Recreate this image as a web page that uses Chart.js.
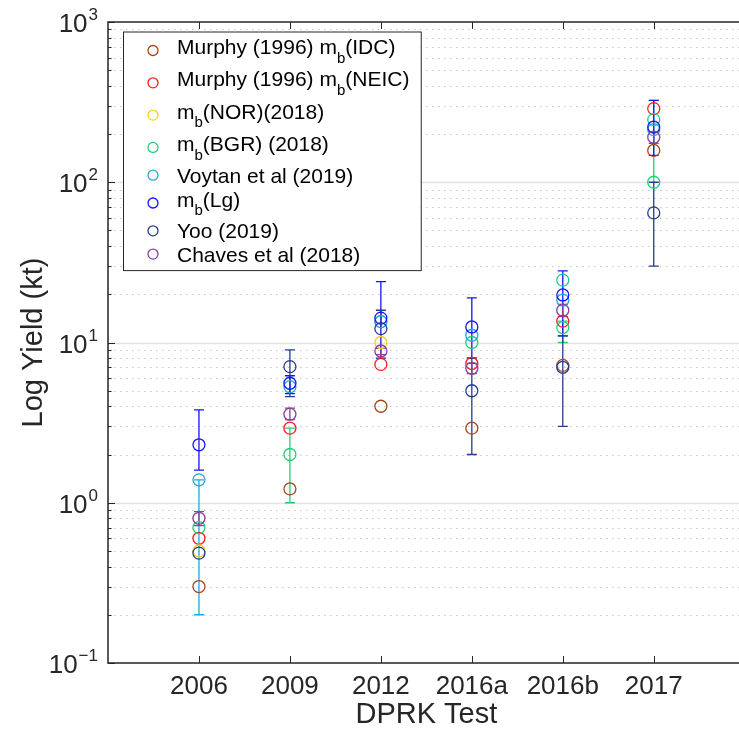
<!DOCTYPE html>
<html>
<head>
<meta charset="utf-8">
<script src="https://cdn.jsdelivr.net/npm/chart.js@4.4.1/dist/chart.umd.min.js"></script>
<style>
    body { margin: 0; overflow: hidden; background: #fff; }
    #wrap { width: 752px; height: 732px; }
</style>
</head>
<body>
<div id="wrap"><canvas id="yield-plot" width="752" height="732"></canvas></div>
<script>
// categories on the x axis
let categories = ['2006', '2009', '2012', '2016a', '2016b', '2017'];

// legend names ("_b" is drawn as subscript) and colours
let series_names = [
    'Murphy (1996) m_b(IDC)',
    'Murphy (1996) m_b(NEIC)',
    'm_b(NOR)(2018)',
    'm_b(BGR) (2018)',
    'Voytan et al (2019)',
    'm_b(Lg)',
    'Yoo (2019)',
    'Chaves et al (2018)'
];
let series_colors = ['#a4491c', '#ff1a1a', '#f7d21a', '#21cf7a', '#22a8dc', '#1414ff', '#243b95', '#8c3f9c'];

// yields (kt), one value per test, null = not plotted
let idc_yield = [0.30, 1.22, 4.0, 2.92, 7.2, 158];
let neic_yield = [0.60, 2.92, 7.3, 7.4, 13.6, 288];
let nor_yield = [0.50, null, 10.0, null, null, null];
let bgr_yield = [0.70, 2.0, 13.5, 10.0, 12.4, 100];
let bgr_yield_b = [null, null, null, null, 24.5, 246];
let voytan_yield = [1.39, 5.3, 13.5, 11.1, 18.4, 213];
let lg_yield = [2.3, 5.57, 14.2, 12.5, 19.8, 221];
let yoo_yield = [0.485, 7.07, 12.2, 5.0, 7.0, 64.4];
let chaves_yield = [0.80, 3.57, 8.85, 6.9, 15.9, 191];

// error bar limits (kt)
let bgr_lo = [null, 1.0, null, null, 10.0, null];
let bgr_hi = [null, 2.92, null, null, 13.6, 324];
let voytan_lo = [0.2, null, null, null, null, null];
let voytan_hi = [1.39, null, null, null, null, null];
let lg_lo = [1.6, 4.8, 8.0, 8.0, 11.0, 147];
let lg_hi = [3.8, 6.2, 24, 19, 28, 324];
let yoo_lo = [null, 4.6, null, 2.0, 3.0, 30];
let yoo_hi = [null, 9.0, 15.9, 8.0, 11.0, 100];
let chaves_lo = [0.72, 3.3, 8.4, 6.4, 14.5, 175];
let chaves_hi = [0.88, 3.9, 9.2, 7.4, 17.3, 205];

let none = [null, null, null, null, null, null];
let series = [
    { values: idc_yield, lo: none, hi: none },
    { values: neic_yield, lo: none, hi: none },
    { values: nor_yield, lo: none, hi: none },
    { values: bgr_yield, extra: bgr_yield_b, lo: bgr_lo, hi: bgr_hi },
    { values: voytan_yield, lo: voytan_lo, hi: voytan_hi },
    { values: lg_yield, lo: lg_lo, hi: lg_hi },
    { values: yoo_yield, lo: yoo_lo, hi: yoo_hi },
    { values: chaves_yield, lo: chaves_lo, hi: chaves_hi }
];

const FONT = "'Liberation Sans', Arial, Helvetica, sans-serif";
const AXIS_COLOR = '#262626';

function to_points(s) {
    let pts = [];
    for (let i = 0; i < s.values.length; i++) {
        if (s.values[i] != null) pts.push({ x: i, y: s.values[i] });
        if (s.extra && s.extra[i] != null) pts.push({ x: i, y: s.extra[i] });
    }
    return pts;
}

let datasets = series.map((s, k) => ({
    label: series_names[k],
    data: to_points(s),
    borderColor: series_colors[k],
    backgroundColor: 'rgba(0,0,0,0)',
    pointRadius: 6,
    pointHoverRadius: 6,
    pointBorderWidth: 1.3,
    showLine: false,
    order: -k   // later series drawn on top
}));

// draws text with "_b" as a subscript, returns width
function draw_sub_text(ctx, text, x, y, size) {
    let parts = text.split('_');
    let cx = x;
    ctx.textAlign = 'left';
    ctx.textBaseline = 'alphabetic';
    for (let p = 0; p < parts.length; p++) {
        let str = parts[p];
        if (p > 0) {
            ctx.font = Math.round(size * 0.72) + 'px ' + FONT;
            ctx.fillText(str[0], cx, y + size * 0.42);
            cx += ctx.measureText(str[0]).width;
            str = str.slice(1);
        }
        ctx.font = size + 'px ' + FONT;
        ctx.fillText(str, cx, y);
        cx += ctx.measureText(str).width;
    }
    return cx - x;
}

const frame_plugin = {
    id: 'frame',
    beforeDatasetsDraw(chart) {
        const { ctx, chartArea: a, scales: { x, y } } = chart;
        ctx.save();
        // dotted minor grid
        ctx.beginPath();
        for (let d = -1; d < 3; d++) {
            for (let m = 2; m <= 9; m++) {
                let py = Math.round(y.getPixelForValue(m * Math.pow(10, d))) + 0.5;
                ctx.moveTo(a.left, py);
                ctx.lineTo(a.right, py);
            }
        }
        ctx.setLineDash([1.5, 4.5]);
        ctx.strokeStyle = '#c6c6c6';
        ctx.lineWidth = 1;
        ctx.stroke();
        // solid major grid
        ctx.setLineDash([]);
        ctx.beginPath();
        for (let d = 0; d < 3; d++) {
            let py = Math.round(y.getPixelForValue(Math.pow(10, d))) + 0.5;
            ctx.moveTo(a.left, py);
            ctx.lineTo(a.right, py);
        }
        ctx.strokeStyle = '#e2e2e2';
        ctx.lineWidth = 1.5;
        ctx.stroke();
        // error bars
        ctx.lineWidth = 1.3;
        series.forEach((s, k) => {
            ctx.strokeStyle = series_colors[k];
            ctx.beginPath();
            for (let i = 0; i < s.lo.length; i++) {
                let lo = s.lo[i], hi = s.hi[i];
                if (lo == null && hi == null) continue;
                let px = x.getPixelForValue(i);
                let v = s.values[i];
                let p_lo = y.getPixelForValue(lo != null ? lo : v);
                let p_hi = y.getPixelForValue(hi != null ? hi : v);
                ctx.moveTo(px, p_lo);
                ctx.lineTo(px, p_hi);
                if (lo != null) { ctx.moveTo(px - 5, p_lo); ctx.lineTo(px + 5, p_lo); }
                if (hi != null) { ctx.moveTo(px - 5, p_hi); ctx.lineTo(px + 5, p_hi); }
            }
            ctx.stroke();
        });
        ctx.restore();
    },
    afterDatasetsDraw(chart) {
        const { ctx, chartArea: a, scales: { x, y } } = chart;
        ctx.save();
        // axes box (left, bottom, top)
        ctx.strokeStyle = AXIS_COLOR;
        ctx.lineWidth = 1.5;
        ctx.beginPath();
        ctx.moveTo(a.right, a.top); ctx.lineTo(a.left, a.top);
        ctx.lineTo(a.left, a.bottom); ctx.lineTo(a.right, a.bottom);
        ctx.stroke();
        // tick marks
        ctx.lineWidth = 1;
        ctx.beginPath();
        for (let i = 0; i < categories.length; i++) {
            let px = Math.round(x.getPixelForValue(i)) + 0.5;
            ctx.moveTo(px, a.bottom); ctx.lineTo(px, a.bottom - 7);
            ctx.moveTo(px, a.top); ctx.lineTo(px, a.top + 7);
        }
        for (let d = -1; d <= 3; d++) {
            for (let m = 1; m <= 9; m++) {
                if (d == 3 && m > 1) break;
                let py = Math.round(y.getPixelForValue(m * Math.pow(10, d))) + 0.5;
                ctx.moveTo(a.left, py); ctx.lineTo(a.left + (m == 1 ? 7 : 3.5), py);
            }
        }
        ctx.stroke();
        // y tick labels 10^n
        ctx.fillStyle = AXIS_COLOR;
        for (let d = -1; d <= 3; d++) {
            let py = y.getPixelForValue(Math.pow(10, d));
            let exp = String(d).replace('-', '\u2212');
            ctx.font = '17px ' + FONT;
            let we = ctx.measureText(exp).width;
            let right = a.left - 10;
            ctx.textAlign = 'left';
            ctx.textBaseline = 'alphabetic';
            ctx.fillText(exp, right - we, py - 2);
            ctx.font = '26px ' + FONT;
            ctx.textAlign = 'right';
            ctx.fillText('10', right - we - 1, py + 10);
        }
        // legend
        let has_sub = series_names.map(n => n.indexOf('_') >= 0 ? 1 : 0);
        let lx = a.left + 15, ly = a.top + 9.5;
        let rows = [ly + 19];
        for (let k = 1; k < series_names.length; k++) {
            rows.push(rows[k - 1] + 23.3 + 4.5 * (has_sub[k - 1] + has_sub[k]));
        }
        let max_w = 0;
        series_names.forEach(n => {
            ctx.font = '21px ' + FONT;
            max_w = Math.max(max_w, ctx.measureText(n.replace('_', '')).width);
        });
        let box_w = 54 + max_w + 8;
        let box_h = rows[rows.length - 1] + 16 - ly;
        ctx.fillStyle = '#fff';
        ctx.fillRect(lx, ly, box_w, box_h);
        ctx.strokeStyle = AXIS_COLOR;
        ctx.lineWidth = 1;
        ctx.strokeRect(lx + 0.5, ly + 0.5, box_w, box_h);
        series_names.forEach((n, k) => {
            ctx.beginPath();
            ctx.arc(lx + 30, rows[k], 5, 0, 2 * Math.PI);
            ctx.strokeStyle = series_colors[k];
            ctx.lineWidth = 1.3;
            ctx.stroke();
            ctx.fillStyle = '#000';
            draw_sub_text(ctx, n, lx + 54, rows[k] + 7.5 - (has_sub[k] ? 4 : 0), 21);
        });
        ctx.restore();
    }
};

let chart = new Chart(document.getElementById('yield-plot'), {
    type: 'scatter',
    data: { datasets: datasets },
    plugins: [frame_plugin],
    options: {
        responsive: false,
        animation: false,
        devicePixelRatio: 1,
        layout: { padding: { top: 22, right: 2, left: 0, bottom: 0 } },
        scales: {
            x: {
                type: 'linear',
                min: -1,
                max: 6,
                afterFit: (scale) => { scale.height = 69; },
                afterBuildTicks: (scale) => { scale.ticks = categories.map((c, i) => ({ value: i })); },
                grid: { display: false, drawTicks: false },
                border: { display: false },
                ticks: {
                    padding: 8,
                    color: AXIS_COLOR,
                    font: { family: FONT, size: 26 },
                    callback: (v) => categories[v] ?? ''
                },
                title: {
                    display: true,
                    text: 'DPRK Test',
                    color: AXIS_COLOR,
                    font: { family: FONT, size: 29 },
                    padding: { top: 0, bottom: 0 }
                }
            },
            y: {
                type: 'logarithmic',
                min: 0.1,
                max: 1000,
                afterFit: (scale) => { scale.width = 108; },
                grid: { display: false },
                border: { display: false },
                ticks: { display: false },
                title: {
                    display: true,
                    text: 'Log Yield (kt)',
                    color: AXIS_COLOR,
                    font: { family: FONT, size: 29 },
                    padding: { top: 17, bottom: 0 }
                }
            }
        },
        plugins: {
            legend: { display: false },
            tooltip: { enabled: false }
        }
    }
});
</script>
</body>
</html>
